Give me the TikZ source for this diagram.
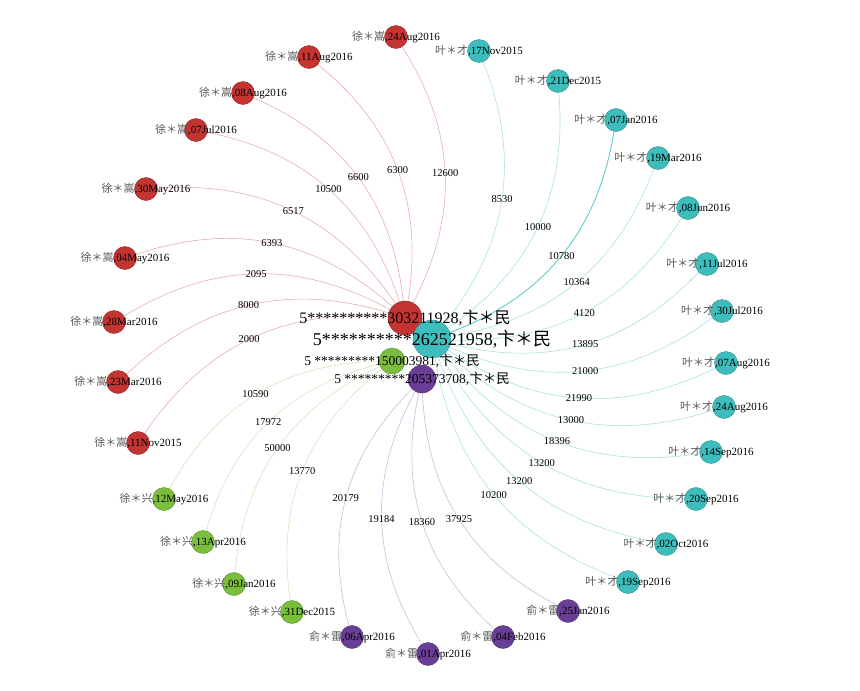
\documentclass[tikz,border=0pt]{standalone}
\usepackage{fontspec}
\setmainfont{Liberation Serif}
\newfontfamily\cjk{Noto Sans CJK SC}
\usetikzlibrary{backgrounds}
\definecolor{cred}{HTML}{C43432}
\definecolor{cteal}{HTML}{3EBDBD}
\definecolor{cgreen}{HTML}{7ABE3C}
\definecolor{cpurple}{HTML}{6A3E96}
\newcommand\cn[1]{{\cjk\color{black!65}#1}}
\tikzset{
  hub/.style={circle, fill=#1, draw=#1!75!black, line width=0.4pt, inner sep=0pt},
  leaf/.style={circle, fill=#1, draw=#1!75!black, line width=0.4pt, inner sep=0pt, minimum size=23pt},
  tag/.style={font=\fontsize{11}{11}\selectfont, text=black, inner sep=0pt},
  hubtag/.style={font=\fontsize{#1}{#1}\selectfont, text=black, inner sep=0pt},
  wire/.style={draw=#1, line width=0.6pt, bend right=30},
  weight/.style={font=\fontsize{10.5}{10.5}\selectfont, inner sep=1pt},
}

\begin{document}
\begin{tikzpicture}[x=1pt, y=-1pt]
  \useasboundingbox (0,0) rectangle (860,691);

  \node[leaf=cred, label={[tag]center:\cn{徐＊嵩},24Aug2016}] (r1) at (396,37) {};
  \node[leaf=cred, label={[tag]center:\cn{徐＊嵩},11Aug2016}] (r2) at (309,57) {};
  \node[leaf=cred, label={[tag]center:\cn{徐＊嵩},08Aug2016}] (r3) at (243,93) {};
  \node[leaf=cred, label={[tag]center:\cn{徐＊嵩},07Jul2016}] (r4) at (196,130) {};
  \node[leaf=cred, label={[tag]center:\cn{徐＊嵩},30May2016}] (r5) at (146,189) {};
  \node[leaf=cred, label={[tag]center:\cn{徐＊嵩},04May2016}] (r6) at (125,258) {};
  \node[leaf=cred, label={[tag]center:\cn{徐＊嵩},28Mar2016}] (r7) at (114,322) {};
  \node[leaf=cred, label={[tag]center:\cn{徐＊嵩},23Mar2016}] (r8) at (118,382) {};
  \node[leaf=cred, label={[tag]center:\cn{徐＊嵩},11Nov2015}] (r9) at (138,443) {};

  \node[leaf=cteal, label={[tag]center:\cn{叶＊才},17Nov2015}] (t1) at (479,51) {};
  \node[leaf=cteal, label={[tag]center:\cn{叶＊才},21Dec2015}] (t2) at (558,81) {};
  \node[leaf=cteal, label={[tag]center:\cn{叶＊才},07Jan2016}] (t3) at (616,120) {};
  \node[leaf=cteal, label={[tag]center:\cn{叶＊才},19Mar2016}] (t4) at (658,158) {};
  \node[leaf=cteal, label={[tag]center:\cn{叶＊才},08Jun2016}] (t5) at (688,208) {};
  \node[leaf=cteal, label={[tag]center:\cn{叶＊才},11Jul2016}] (t6) at (707,264) {};
  \node[leaf=cteal, label={[tag]center:\cn{叶＊才},30Jul2016}] (t7) at (722,311) {};
  \node[leaf=cteal, label={[tag]center:\cn{叶＊才},07Aug2016}] (t8) at (726,363) {};
  \node[leaf=cteal, label={[tag]center:\cn{叶＊才},24Aug2016}] (t9) at (724,407) {};
  \node[leaf=cteal, label={[tag]center:\cn{叶＊才},14Sep2016}] (t10) at (711,452) {};
  \node[leaf=cteal, label={[tag]center:\cn{叶＊才},20Sep2016}] (t11) at (696,499) {};
  \node[leaf=cteal, label={[tag]center:\cn{叶＊才},02Oct2016}] (t12) at (666,544) {};
  \node[leaf=cteal, label={[tag]center:\cn{叶＊才},19Sep2016}] (t13) at (628,582) {};

  \node[leaf=cgreen, label={[tag]center:\cn{徐＊兴},12May2016}] (g1) at (164,499) {};
  \node[leaf=cgreen, label={[tag]center:\cn{徐＊兴},13Apr2016}] (g2) at (203,542) {};
  \node[leaf=cgreen, label={[tag]center:\cn{徐＊兴},09Jan2016}] (g3) at (234,584) {};
  \node[leaf=cgreen, label={[tag]center:\cn{徐＊兴},31Dec2015}] (g4) at (292,612) {};

  \node[leaf=cpurple, label={[tag]center:\cn{俞＊雷},06Apr2016}] (p1) at (352,637) {};
  \node[leaf=cpurple, label={[tag]center:\cn{俞＊雷},01Apr2016}] (p2) at (428,654) {};
  \node[leaf=cpurple, label={[tag]center:\cn{俞＊雷},04Feb2016}] (p3) at (503,637) {};
  \node[leaf=cpurple, label={[tag]center:\cn{俞＊雷},25Jan2016}] (p4) at (568,611) {};

  % the four accounts in the middle
  \node[hub=cred, minimum size=34pt] (rh) at (405,318) {};
  \node[hub=cteal, minimum size=38pt] (th) at (432,339) {};
  \node[hub=cgreen, minimum size=26pt] (gh) at (392,361) {};
  \node[hub=cpurple, minimum size=28pt] (ph) at (422,379) {};
  \node[hubtag=16] (rl) at (rh) {5**********303211928,{\cjk 卞＊民}};
  \node[hubtag=18] (tl) at (th) {5**********262521958,{\cjk 卞＊民}};
  \node[hubtag=13.5] (gl) at (gh) {5 *********150003981,{\cjk 卞＊民}};
  \node[hubtag=13.5] (pl) at (ph) {5 *********205373708,{\cjk 卞＊民}};

  \begin{scope}[on background layer]
    \foreach \leaf/\w in {r1/12600, r2/6300, r3/6600, r4/10500, r5/6517, r6/6393, r7/2095, r8/8000, r9/2000}
      \draw[wire=cred!40] (rh) to node[weight] {\w} (\leaf);
    \foreach \leaf/\w in {t1/8530, t2/10000, t4/10364, t5/4120, t6/13895, t7/21000, t8/21990, t9/13000, t10/18396, t11/13200, t12/13200, t13/10200}
      \draw[wire=cteal!45] (th) to node[weight] {\w} (\leaf);
    \draw[wire=cteal!80, line width=0.9pt] (th) to node[weight] {10780} (t3);
    \foreach \leaf/\w in {g1/10590, g2/17972, g3/50000, g4/13770}
      \draw[wire=cgreen!35] (gh) to node[weight] {\w} (\leaf);
    \foreach \leaf/\w in {p1/20179, p2/19184, p3/18360, p4/37925}
      \draw[wire=cpurple!35] (ph) to node[weight] {\w} (\leaf);
  \end{scope}
\end{tikzpicture}
\end{document}
